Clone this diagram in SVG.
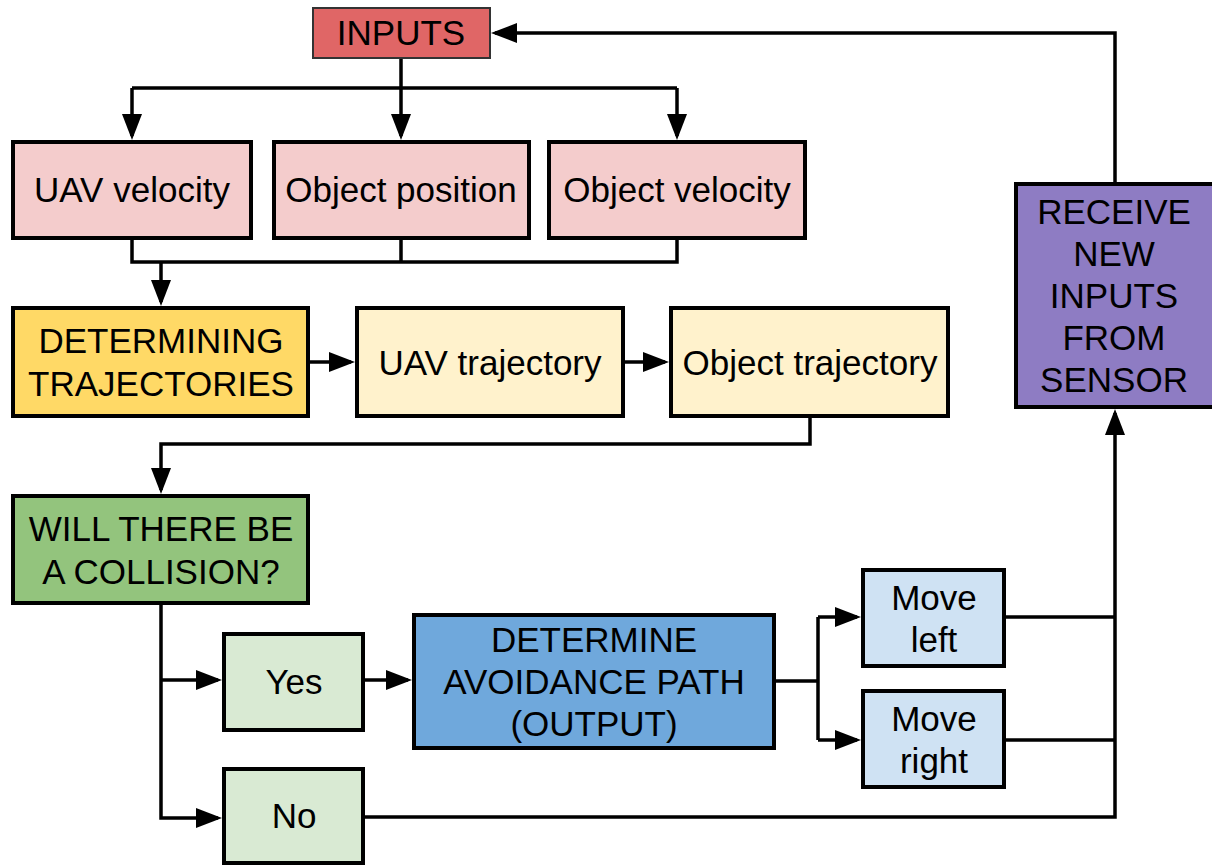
<svg xmlns="http://www.w3.org/2000/svg" width="1212" height="867" viewBox="0 0 1212 867">
  <style>
    .box { stroke: #000; stroke-width: 4; }
    .thin { stroke: #333; stroke-width: 2; }
    .lbl { font-family: "Liberation Sans", Arial, sans-serif; font-size: 35px; fill: #000; text-anchor: middle; }
    .wire { fill: none; stroke: #000; stroke-width: 3.5; }
    .arr { marker-end: url(#head); }
  </style>
  <defs>
    <marker id="head" markerUnits="userSpaceOnUse" markerWidth="26" markerHeight="20" refX="22" refY="10" orient="auto">
      <path d="M0,0 L26,10 L0,20 z" fill="#000"/>
    </marker>
  </defs>
  <rect width="1212" height="867" fill="#fff"/>

  <!-- connectors -->
  <g id="connectors">
    <!-- inputs fan-out -->
    <path class="wire" d="M401,59 V88 M132,88 H677"/>
    <path class="wire arr" d="M132,88 V136"/>
    <path class="wire arr" d="M401,88 V136"/>
    <path class="wire arr" d="M677,88 V136"/>
    <!-- inputs merge into trajectory step -->
    <path class="wire" d="M132,240 V262 H677 V240 M401,240 V262"/>
    <path class="wire arr" d="M161,262 V302"/>
    <path class="wire arr" d="M310,362 H351"/>
    <path class="wire arr" d="M625,362 H665"/>
    <path class="wire arr" d="M810,418 V444 H161 V490"/>
    <!-- collision decision -->
    <path class="wire arr" d="M161,605 V818 H218"/>
    <path class="wire arr" d="M161,680 H218"/>
    <path class="wire arr" d="M365,680 H408"/>
    <!-- avoidance branches -->
    <path class="wire" d="M776,681 H818 M818,617 V740"/>
    <path class="wire arr" d="M818,617 H857"/>
    <path class="wire arr" d="M818,740 H857"/>
    <!-- feedback loop -->
    <path class="wire" d="M1006,617 H1115 M1006,740 H1115"/>
    <path class="wire arr" d="M365,817 H1115 V413"/>
    <path class="wire arr" d="M1115,182 V33 H495"/>
  </g>

  <g id="inputs">
    <rect class="thin" x="313" y="8" width="177" height="50" fill="#e06666"/>
    <text class="lbl" x="401" y="45">INPUTS</text>
  </g>
  <g id="uav-velocity">
    <rect class="box" x="13" y="142" width="238" height="96" fill="#f4cccc"/>
    <text class="lbl" x="132" y="202">UAV velocity</text>
  </g>
  <g id="object-position">
    <rect class="box" x="274" y="142" width="255" height="96" fill="#f4cccc"/>
    <text class="lbl" x="401" y="202">Object position</text>
  </g>
  <g id="object-velocity">
    <rect class="box" x="549" y="142" width="256" height="96" fill="#f4cccc"/>
    <text class="lbl" x="677" y="202">Object velocity</text>
  </g>
  <g id="determining-trajectories">
    <rect class="box" x="13" y="308" width="295" height="108" fill="#ffd966"/>
    <text class="lbl" x="161" y="353">DETERMINING</text>
    <text class="lbl" x="161" y="396">TRAJECTORIES</text>
  </g>
  <g id="uav-trajectory">
    <rect class="box" x="357" y="308" width="266" height="108" fill="#fff2cc"/>
    <text class="lbl" x="490" y="375">UAV trajectory</text>
  </g>
  <g id="object-trajectory">
    <rect class="box" x="671" y="308" width="277" height="108" fill="#fff2cc"/>
    <text class="lbl" x="810" y="375">Object trajectory</text>
  </g>
  <g id="collision-check">
    <rect class="box" x="13" y="496" width="295" height="107" fill="#93c47d"/>
    <text class="lbl" x="161" y="541">WILL THERE BE</text>
    <text class="lbl" x="161" y="584">A COLLISION?</text>
  </g>
  <g id="yes">
    <rect class="box" x="224" y="634" width="139" height="96" fill="#d9ead3"/>
    <text class="lbl" x="294" y="694">Yes</text>
  </g>
  <g id="no">
    <rect class="box" x="224" y="769" width="139" height="94" fill="#d9ead3"/>
    <text class="lbl" x="294" y="828">No</text>
  </g>
  <g id="avoidance-path">
    <rect class="box" x="414" y="615" width="360" height="133" fill="#6fa8dc"/>
    <text class="lbl" x="594" y="652">DETERMINE</text>
    <text class="lbl" x="594" y="694">AVOIDANCE PATH</text>
    <text class="lbl" x="594" y="736">(OUTPUT)</text>
  </g>
  <g id="move-left">
    <rect class="box" x="863" y="570" width="141" height="96" fill="#cfe2f3"/>
    <text class="lbl" x="934" y="610">Move</text>
    <text class="lbl" x="934" y="652">left</text>
  </g>
  <g id="move-right">
    <rect class="box" x="863" y="691" width="141" height="96" fill="#cfe2f3"/>
    <text class="lbl" x="934" y="731">Move</text>
    <text class="lbl" x="934" y="773">right</text>
  </g>
  <g id="receive-inputs">
    <rect class="box" x="1016" y="184" width="200" height="223" fill="#8e7cc3"/>
    <text class="lbl" x="1114" y="224">RECEIVE</text>
    <text class="lbl" x="1114" y="266">NEW</text>
    <text class="lbl" x="1114" y="308">INPUTS</text>
    <text class="lbl" x="1114" y="350">FROM</text>
    <text class="lbl" x="1114" y="392">SENSOR</text>
  </g>
</svg>
